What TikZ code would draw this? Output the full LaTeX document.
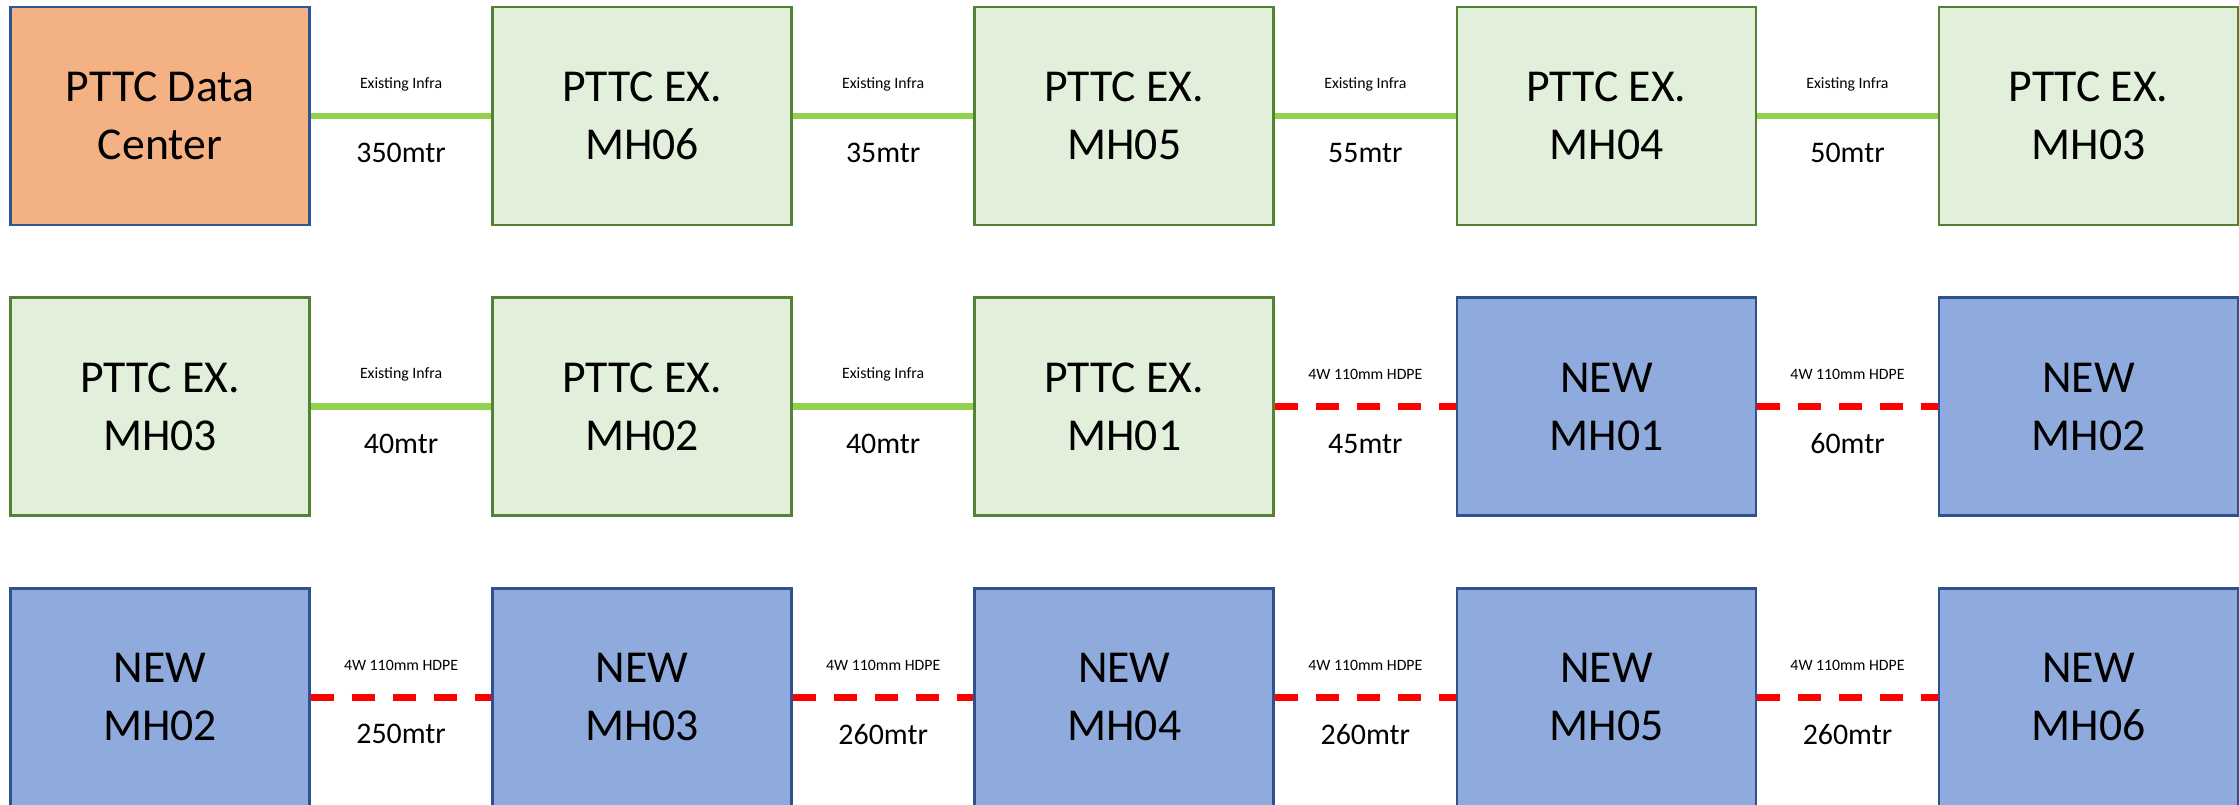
\documentclass[tikz,border=0pt]{standalone}
\usepackage{fontspec}
\setmainfont{Carlito}
\usepackage{xcolor}
\usetikzlibrary{positioning}

\definecolor{dcorange}{HTML}{F4B183}
\definecolor{dcblue}{HTML}{2F5597}
\definecolor{exfill}{HTML}{E2EFDA}
\definecolor{exgreen}{HTML}{548235}
\definecolor{nwfill}{HTML}{8FAADC}
\definecolor{nwblue}{HTML}{2F528F}
\definecolor{infragreen}{HTML}{92D050}

\tikzset{
	mh/.style={rectangle,minimum width=5.98cm,minimum height=4.36cm,inner sep=0pt,line width=1.5pt,align=center,font=\fontsize{26}{33}\selectfont},
	dc/.style={mh,draw=dcblue,fill=dcorange},
	ex/.style={mh,draw=exgreen,fill=exfill},
	nw/.style={mh,draw=nwblue,fill=nwfill},
	infra/.style={line width=0.13cm,draw=infragreen},
	hdpe/.style={line width=0.13cm,draw=red,dash pattern=on 0.46cm off 0.36cm},
	uplbl/.style={midway,yshift=0.64cm,font=\fontsize{9}{11}\selectfont},
	lowlbl/.style={midway,yshift=-0.74cm,font=\fontsize{17}{20}\selectfont}
}

\begin{document}
\begin{tikzpicture}[node distance=1.40cm and 3.61cm]
		\useasboundingbox (-3.2,-13.76) rectangle (41.58,2.32);
		% first row
		\node[dc] (dc) at (0,0) {PTTC Data\\Center};
		\node[ex,right=of dc] (exsix) {PTTC EX.\\MH06};
		\node[ex,right=of exsix] (exfive) {PTTC EX.\\MH05};
		\node[ex,right=of exfive] (exfour) {PTTC EX.\\MH04};
		\node[ex,right=of exfour] (exthree) {PTTC EX.\\MH03};
		% second row
		\node[ex,below=of dc] (exthreeb) {PTTC EX.\\MH03};
		\node[ex,right=of exthreeb] (extwo) {PTTC EX.\\MH02};
		\node[ex,right=of extwo] (exone) {PTTC EX.\\MH01};
		\node[nw,right=of exone] (nwone) {NEW\\MH01};
		\node[nw,right=of nwone] (nwtwo) {NEW\\MH02};
		% third row
		\node[nw,below=of exthreeb] (nwtwob) {NEW\\MH02};
		\node[nw,right=of nwtwob] (nwthree) {NEW\\MH03};
		\node[nw,right=of nwthree] (nwfour) {NEW\\MH04};
		\node[nw,right=of nwfour] (nwfive) {NEW\\MH05};
		\node[nw,right=of nwfive] (nwsix) {NEW\\MH06};

		\draw[infra] (dc) -- node[uplbl] {Existing Infra} node[lowlbl] {350mtr} (exsix);
		\draw[infra] (exsix) -- node[uplbl] {Existing Infra} node[lowlbl] {35mtr} (exfive);
		\draw[infra] (exfive) -- node[uplbl] {Existing Infra} node[lowlbl] {55mtr} (exfour);
		\draw[infra] (exfour) -- node[uplbl] {Existing Infra} node[lowlbl] {50mtr} (exthree);

		\draw[infra] (exthreeb) -- node[uplbl] {Existing Infra} node[lowlbl] {40mtr} (extwo);
		\draw[infra] (extwo) -- node[uplbl] {Existing Infra} node[lowlbl] {40mtr} (exone);
		\draw[hdpe] (exone) -- node[uplbl] {4W 110mm HDPE} node[lowlbl] {45mtr} (nwone);
		\draw[hdpe] (nwone) -- node[uplbl] {4W 110mm HDPE} node[lowlbl] {60mtr} (nwtwo);

		\draw[hdpe] (nwtwob) -- node[uplbl] {4W 110mm HDPE} node[lowlbl] {250mtr} (nwthree);
		\draw[hdpe] (nwthree) -- node[uplbl] {4W 110mm HDPE} node[lowlbl] {260mtr} (nwfour);
		\draw[hdpe] (nwfour) -- node[uplbl] {4W 110mm HDPE} node[lowlbl] {260mtr} (nwfive);
		\draw[hdpe] (nwfive) -- node[uplbl] {4W 110mm HDPE} node[lowlbl] {260mtr} (nwsix);
\end{tikzpicture}
\end{document}
